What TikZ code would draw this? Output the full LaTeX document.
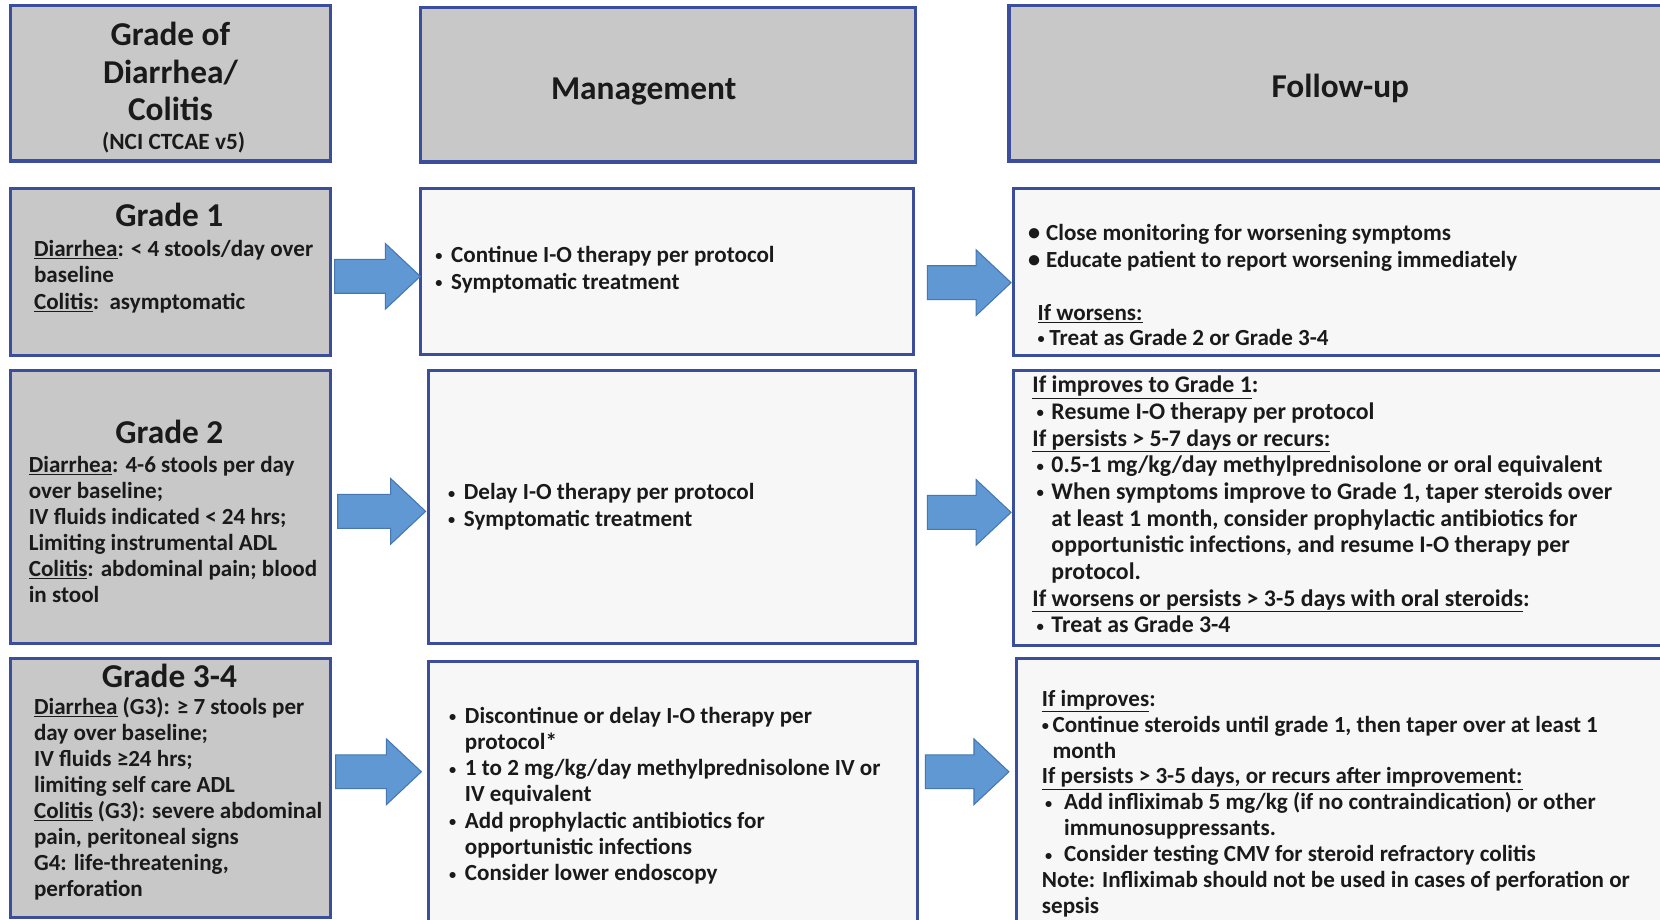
\documentclass[tikz,border=0pt]{standalone}
\usepackage{fontspec}
\setmainfont{Carlito}
\usepackage{graphicx}
\definecolor{bordr}{HTML}{3A4E9C}
\definecolor{grayfill}{HTML}{C9C8C8}
\definecolor{whitefill}{HTML}{F7F7F7}
\definecolor{arrowfill}{HTML}{5F98D2}
\definecolor{arrowline}{HTML}{4677B3}
\definecolor{txt}{HTML}{1A1A1A}
\tikzset{
  box/.style={draw=bordr, line width=3pt, inner sep=0pt, outer sep=0pt, anchor=north west},
  graybox/.style={box, fill=grayfill},
  whitebox/.style={box, fill=whitefill},
  blockarrow/.style={fill=arrowfill, draw=arrowline, line width=1pt, line join=miter},
  titletxt/.style={font=\fontsize{31.5}{36}\selectfont\bfseries, text=txt, inner sep=0pt, anchor=base},
  subtxt/.style={font=\fontsize{22}{26}\selectfont\bfseries, text=txt, inner sep=0pt, anchor=base},
  bodytxt/.style={font=\fontsize{21.8}{25}\selectfont\bfseries, text=txt, inner sep=0pt, anchor=base west},
  widetxt/.style={font=\fontsize{22.5}{25}\selectfont\bfseries, text=txt, inner sep=0pt, anchor=base west},
}
\newcommand{\smdot}{\raisebox{1.5pt}{\scalebox{0.62}{•}}}
\newcommand{\bul}{\makebox[15pt][l]{\smdot}}
\newcommand{\ind}{\hspace*{15pt}}
\newcommand{\bigbul}{\makebox[17pt][l]{\raisebox{0pt}{\scalebox{1.05}{•}}}}
\newcommand{\fb}{\hspace*{4pt}\makebox[14pt][l]{\smdot}}
\newcommand{\fc}{\hspace*{18pt}}
\newcommand{\txtlines}[6]{%
  \foreach \t [count=\i from 0] in {#6} {\node[#1] (#2-\i) at (#3,#4+\i*#5) {\t};}}
\newcommand{\barrow}[3]{%
  \draw[blockarrow] (#1,#3-16) -- (#2-33,#3-16) -- (#2-33,#3-31) -- (#2,#3) -- (#2-33,#3+31) -- (#2-33,#3+16) -- (#1,#3+16) -- cycle;}
\begin{document}
\begin{tikzpicture}[x=1pt,y=-1pt]
\fill[white] (0,0) rectangle (1568,869);
\clip (0,0) rectangle (1568,869);
% column 1
\node[graybox, minimum width=302pt, minimum height=147pt] (h1) at (10,5) {};
\node[graybox, minimum width=302pt, minimum height=158pt] (g1) at (10,178) {};
\node[graybox, minimum width=302pt, minimum height=258pt] (g2) at (10,350) {};
\node[graybox, minimum width=302pt, minimum height=245pt] (g3) at (10,622) {};
% column 2
\node[graybox, minimum width=468pt, minimum height=146pt] (h2) at (397,7) {};
\node[whitebox, minimum width=466pt, minimum height=157pt] (m1) at (397,178) {};
\node[whitebox, minimum width=460pt, minimum height=258pt] (m2) at (405,350) {};
\node[whitebox, minimum width=462pt, minimum height=260pt] (m3) at (405,625) {};
% column 3
\node[graybox, minimum width=640pt, minimum height=147pt] (h3) at (953,5) {};
\node[whitebox, minimum width=640pt, minimum height=158pt] (f1) at (957,178) {};
\node[whitebox, minimum width=640pt, minimum height=260pt] (f2) at (957,350) {};
\node[whitebox, minimum width=640pt, minimum height=260pt] (f3) at (960,622) {};
% arrows
\barrow{316}{397}{261}
\barrow{319}{402}{483}
\barrow{317}{398}{729}
\barrow{876}{955}{267}
\barrow{876}{955}{484}
\barrow{874}{953}{729}
% headers
\node[titletxt] (h1a) at (161,43) {Grade of};
\node[titletxt] (h1b) at (161,79) {Diarrhea/};
\node[titletxt] (h1c) at (161,114) {Colitis};
\node[subtxt] (h1d) at (164,141) {(NCI CTCAE v5)};
\node[titletxt] (h2a) at (608,94) {Management};
\node[titletxt] (h3a) at (1266,92) {Follow-up};
% grade titles
\node[titletxt] (g1t) at (160,214) {Grade 1};
\node[titletxt] (g2t) at (160,419) {Grade 2};
\node[titletxt] (g3t) at (160,649) {Grade 3-4};
% grade bodies
\txtlines{bodytxt}{g1l}{32}{242}{25}{{\underline{Diarrhea}: < 4 stools/day over},{baseline},{\underline{Colitis}:\ \ asymptomatic}}
\txtlines{bodytxt}{g2l}{27}{446}{24.6}{{\underline{Diarrhea}: 4-6 stools per day},{over baseline;},{IV fluids indicated < 24 hrs;},{Limiting instrumental ADL},{\underline{Colitis}: abdominal pain; blood},{in stool}}
\txtlines{bodytxt}{g3l}{32}{675}{24.6}{{\underline{Diarrhea} (G3): ≥ 7 stools per},{day over baseline;},{IV fluids ≥24 hrs;},{limiting self care ADL},{\underline{Colitis} (G3): severe abdominal},{pain, peritoneal signs},{G4: life-threatening,},{perforation}}
% management
\txtlines{bodytxt}{m1l}{411}{248}{25}{{\bul Continue I-O therapy per protocol},{\bul Symptomatic treatment}}
\txtlines{bodytxt}{m2l}{423}{472}{25}{{\bul Delay I-O therapy per protocol},{\bul Symptomatic treatment}}
\txtlines{bodytxt}{m3l}{424}{683}{24.8}{{\bul Discontinue or delay I-O therapy per},{\ind protocol*},{\bul 1 to 2 mg/kg/day methylprednisolone IV or},{\ind IV equivalent},{\bul Add prophylactic antibiotics for},{\ind opportunistic infections},{\bul Consider lower endoscopy}}
% follow-up
\txtlines{bodytxt}{f1l}{971}{227}{26}{{\bigbul Close monitoring for worsening symptoms},{\bigbul Educate patient to report worsening immediately}}
\txtlines{bodytxt}{f1w}{980}{303}{23}{{\underline{If worsens:}},{\makebox[11pt][l]{\smdot}Treat as Grade 2 or Grade 3-4}}
\txtlines{widetxt}{f2l}{975}{371}{25.2}{{\underline{If improves to Grade 1}:},{\fb Resume I-O therapy per protocol},{\underline{If persists > 5-7 days or recurs:}},{\fb 0.5-1 mg/kg/day methylprednisolone or oral equivalent},{\fb When symptoms improve to Grade 1, taper steroids over},{\fc at least 1 month, consider prophylactic antibiotics for},{\fc opportunistic infections, and resume I-O therapy per},{\fc protocol.},{\underline{If worsens or persists > 3-5 days with oral steroids}:},{\fb Treat as Grade 3-4}}
\txtlines{bodytxt}{f3l}{984}{667}{24.5}{{\underline{If improves}:},{\makebox[10pt][l]{\smdot}Continue steroids until grade 1, then taper over at least 1},{\hspace*{10pt}month},{\underline{If persists > 3-5 days, or recurs after improvement:}},{\hspace*{3pt}\makebox[18pt][l]{\smdot}Add infliximab 5 mg/kg (if no contraindication) or other},{\hspace*{21pt}immunosuppressants.},{\hspace*{3pt}\makebox[18pt][l]{\smdot}Consider testing CMV for steroid refractory colitis},{Note: Infliximab should not be used in cases of perforation or},{sepsis}}
\end{tikzpicture}
\end{document}
